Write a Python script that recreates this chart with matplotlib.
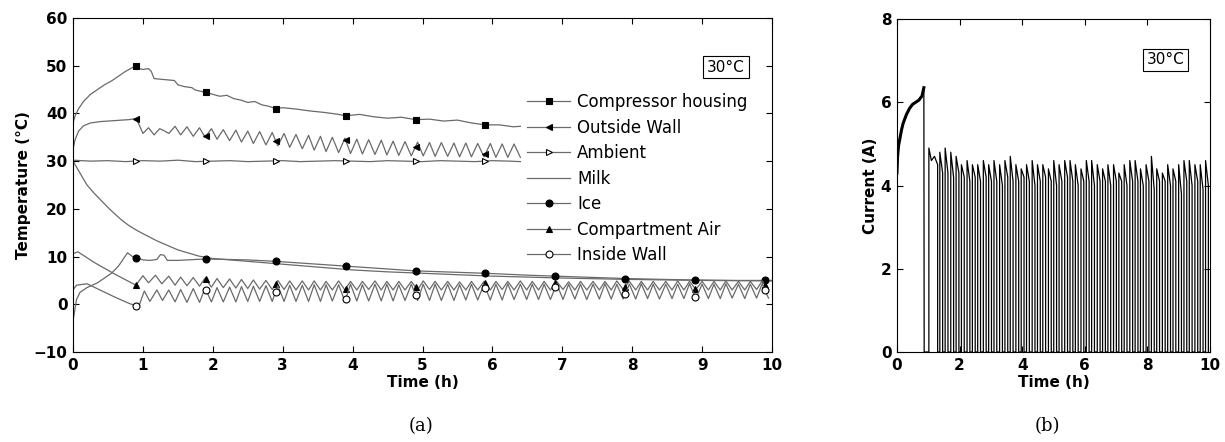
import numpy as np
import matplotlib
matplotlib.use('Agg')
import matplotlib.pyplot as plt
from matplotlib.lines import Line2D

plt.rcParams['font.family'] = 'DejaVu Sans'
plt.rcParams['font.weight'] = 'bold'
plt.rcParams['axes.labelweight'] = 'bold'

# ---- compressor on/off cycle times (h)
on_t = [1.37, 1.54, 1.72, 1.89, 2.06, 2.24, 2.41, 2.58, 2.76, 2.93,
        3.10, 3.28, 3.45, 3.62, 3.80, 3.97, 4.14, 4.32, 4.49, 4.66,
        4.84, 5.01, 5.18, 5.36, 5.53, 5.70, 5.88, 6.05, 6.22, 6.40,
        6.57, 6.74, 6.92, 7.09, 7.26, 7.44, 7.61, 7.78, 7.96, 8.13,
        8.30, 8.48, 8.65, 8.82, 9.00, 9.17, 9.34, 9.52, 9.69, 9.86]
off_t = [1.46, 1.63, 1.81, 1.98, 2.15, 2.33, 2.50, 2.67, 2.85, 3.02,
         3.19, 3.37, 3.54, 3.71, 3.89, 4.06, 4.23, 4.41, 4.58, 4.75,
         4.93, 5.10, 5.27, 5.45, 5.62, 5.79, 5.97, 6.14, 6.31, 6.49,
         6.66, 6.83, 7.01, 7.18, 7.35, 7.53, 7.70, 7.87, 8.05, 8.22,
         8.39, 8.57, 8.74, 8.91, 9.09, 9.26, 9.43, 9.61, 9.78, 9.95]

# ---- compressor housing
ch_t = [0, 0.03, 0.08, 0.15, 0.25, 0.35, 0.45, 0.55, 0.65, 0.75, 0.85, 0.9,
        0.95, 1.0, 1.08, 1.12, 1.16, 1.3, 1.45, 1.5, 1.6, 1.7, 1.75, 1.9,
        2.0, 2.1, 2.2, 2.3, 2.4, 2.5, 2.6, 2.7, 2.8, 2.9, 3.0, 3.2, 3.4,
        3.6, 3.8, 3.9, 4.1, 4.3, 4.5, 4.7, 4.9, 5.1, 5.3, 5.5, 5.7, 5.9,
        6.1, 6.3, 6.4]
ch_T = [38.0, 39.5, 41.0, 42.5, 44.0, 45.0, 46.0, 46.8, 47.8, 48.8, 49.6, 50.0,
        49.4, 49.2, 49.4, 48.8, 47.3, 47.1, 46.9, 46.0, 45.6, 45.4, 44.9, 44.4,
        44.0, 43.6, 43.8, 43.1, 42.8, 42.3, 42.5, 41.8, 41.5, 41.0, 41.2, 40.9,
        40.5, 40.2, 39.8, 39.5, 39.8, 39.3, 39.0, 39.2, 38.7, 38.8, 38.4, 38.6,
        38.0, 37.6, 37.6, 37.2, 37.3]

# ---- outside wall: pull-down part, then cycle lows (at on_t) / highs (at off_t)
ow_t0 = [0, 0.03, 0.08, 0.15, 0.25, 0.4, 0.6, 0.8, 0.9, 0.95, 1.0, 1.08, 1.16, 1.24, 1.3]
ow_T0 = [32.5, 34.5, 36.3, 37.4, 38.0, 38.3, 38.5, 38.7, 38.9, 37.5, 35.8, 37.0, 35.5, 36.8, 36.4]
ow_lo = [35.8, 35.5, 35.2, 35.0, 34.6, 34.3, 34.0, 33.7, 33.4, 33.2,
         32.9, 32.6, 32.3, 32.0, 31.8, 31.6, 31.5, 31.4, 31.3, 31.2,
         31.1, 31.1, 31.0, 31.0, 30.9, 30.9, 30.9, 30.8, 30.8, 30.8]
ow_hi = [37.3, 37.2, 37.0, 36.8, 36.6, 36.5, 36.3, 36.2, 36.0, 35.8,
         35.6, 35.4, 35.2, 35.0, 34.8, 34.6, 34.5, 34.4, 34.2, 34.1,
         34.0, 33.9, 33.9, 33.8, 33.8, 33.7, 33.7, 33.6, 33.6]

# ---- ambient
amb_t = [0, 0.25, 0.5, 0.75, 1.0, 1.25, 1.5, 1.75, 2.0, 2.25, 2.5, 2.75, 3.0, 3.25,
         3.5, 3.75, 4.0, 4.25, 4.5, 4.75, 5.0, 5.25, 5.5, 5.75, 6.0, 6.25, 6.4]
amb_T = [30.2, 30.0, 30.1, 29.9, 30.1, 30.0, 30.2, 29.9, 30.0, 30.1, 29.9, 30.0, 30.1, 29.9,
         30.0, 30.1, 30.0, 29.9, 30.1, 30.0, 29.9, 30.1, 30.0, 29.9, 30.1, 30.0, 29.9]

# ---- milk
milk_t = [0, 0.1, 0.2, 0.3, 0.4, 0.5, 0.6, 0.7, 0.8, 0.9, 1.0, 1.2, 1.5, 1.8, 2.0,
          2.5, 3.0, 3.5, 4.0, 4.5, 5.0, 5.5, 6.0, 6.5, 7.0, 8.0, 9.0, 10.0]
milk_T = [30.0, 27.5, 25.0, 23.3, 21.8, 20.3, 18.9, 17.6, 16.5, 15.6, 14.8, 13.3, 11.4,
          10.1, 9.6, 9.0, 8.4, 7.8, 7.2, 6.8, 6.5, 6.2, 5.9, 5.7, 5.5, 5.2, 5.0, 4.9]

# ---- ice
ice_t = [0, 0.05, 0.1, 0.2, 0.35, 0.45, 0.55, 0.65, 0.72, 0.78, 0.85, 0.9, 1.0, 1.1,
         1.2, 1.25, 1.3, 1.35, 1.5, 1.9, 2.5, 2.9, 3.5, 3.9, 4.5, 4.9, 5.5, 5.9, 6.5,
         6.9, 7.5, 7.9, 8.5, 8.9, 9.5, 10.0]
ice_T = [-3.5, 1.0, 2.5, 3.5, 4.5, 5.5, 6.5, 8.0, 9.5, 10.8, 10.0, 9.8, 9.3, 9.2,
         9.4, 10.4, 10.3, 9.2, 9.2, 9.5, 9.3, 9.0, 8.4, 8.0, 7.4, 7.0, 6.7, 6.5, 6.1,
         5.9, 5.6, 5.4, 5.2, 5.1, 5.0, 5.0]

# ---- compartment air: pull-down, then highs (at on_t) / lows (at off_t)
air_t0 = [0, 0.07, 0.3, 0.6, 0.9, 1.0, 1.08, 1.18, 1.27]
air_T0 = [10.6, 11.0, 8.8, 6.3, 4.0, 6.0, 4.5, 6.1, 4.3]
air_hi = [5.9, 5.7, 5.6, 5.5, 5.4, 5.3, 5.2, 5.1, 5.0, 5.0, 4.9, 4.9, 4.9, 4.8, 4.9, 4.8, 4.8,
          4.9, 4.8, 4.8, 4.8, 4.9, 4.8, 4.8, 4.7, 4.8, 4.8, 4.8, 4.8, 4.9, 4.8, 4.8, 4.8,
          4.7, 4.8, 4.8, 4.8, 4.9, 4.8, 4.8, 4.8, 4.8, 4.9, 4.8, 4.8, 4.8, 4.9, 4.8, 4.8, 4.9]
air_lo = [4.0, 3.9, 3.8, 3.6, 3.5, 3.4, 3.3, 3.2, 3.1, 3.1, 3.0, 3.0, 3.0, 3.0, 3.0, 3.0, 3.1,
          3.0, 3.0, 3.0, 3.0, 3.1, 3.0, 3.0, 3.0, 3.0, 3.0, 3.1, 3.0, 3.0, 3.0, 3.0, 3.1,
          3.0, 3.0, 3.0, 3.0, 3.1, 3.0, 3.0, 3.0, 3.0, 3.0, 3.1, 3.0, 3.0, 3.0, 3.0, 3.1, 3.0]

# ---- inside wall
iw_t0 = [0, 0.05, 0.2, 0.4, 0.6, 0.8, 0.9, 0.95, 1.02, 1.1, 1.2, 1.28]
iw_T0 = [3.0, 4.0, 4.3, 2.9, 1.5, 0.2, -0.3, -0.1, 2.8, 0.6, 3.0, 0.8]
iw_hi = [3.0, 3.1, 3.3, 3.4, 3.5, 3.6, 3.7, 3.8, 3.9, 3.9, 4.0, 4.0, 4.1, 4.1, 4.1, 4.2, 4.1,
         4.2, 4.2, 4.1, 4.2, 4.2, 4.2, 4.2, 4.1, 4.2, 4.2, 4.2, 4.3, 4.2, 4.2, 4.2, 4.3,
         4.2, 4.2, 4.2, 4.3, 4.2, 4.2, 4.3, 4.2, 4.2, 4.2, 4.3, 4.2, 4.2, 4.3, 4.2, 4.2, 4.3]
iw_lo = [0.5, 0.4, 0.4, 0.5, 0.5, 0.5, 0.6, 0.6, 0.6, 0.6, 0.6, 0.6, 0.6, 0.7, 0.6, 0.7, 0.7,
         0.7, 0.7, 0.8, 0.8, 0.8, 0.8, 0.8, 0.9, 0.9, 0.9, 0.9, 1.0, 1.0, 1.0, 1.0, 1.0,
         1.1, 1.0, 1.1, 1.1, 1.1, 1.1, 1.2, 1.1, 1.2, 1.2, 1.2, 1.2, 1.2, 1.3, 1.2, 1.3, 1.3]

# ---- compressor current
pd_t = [0, 0.02, 0.05, 0.1, 0.15, 0.2, 0.3, 0.4, 0.5, 0.6, 0.7, 0.8, 0.86]
pd_I = [4.3, 4.7, 4.95, 5.15, 5.35, 5.5, 5.7, 5.85, 5.95, 6.0, 6.05, 6.15, 6.35]
cur_t0 = [0.86, 0.87, 1.02, 1.02, 1.1, 1.2, 1.3, 1.3]
cur_I0 = [6.35, 0, 0, 4.9, 4.6, 4.7, 4.5, 0]
cur_hi = [4.8, 4.9, 4.8, 4.7, 4.5, 4.6, 4.5, 4.5, 4.6, 4.5, 4.6, 4.5, 4.6, 4.7, 4.5, 4.4, 4.5,
          4.6, 4.5, 4.5, 4.4, 4.6, 4.5, 4.6, 4.6, 4.5, 4.4, 4.6, 4.6, 4.5, 4.4, 4.5, 4.5,
          4.3, 4.5, 4.6, 4.6, 4.4, 4.5, 4.7, 4.4, 4.3, 4.5, 4.4, 4.5, 4.6, 4.6, 4.5, 4.5, 4.6]
cur_lo = [4.3, 4.3, 4.2, 4.3, 4.2, 4.1, 4.2, 4.1, 4.2, 4.1, 4.1, 4.0, 4.2, 4.1, 4.1, 4.2, 4.1,
          4.0, 4.1, 4.2, 4.1, 4.0, 4.1, 4.2, 4.1, 4.0, 4.1, 4.1, 4.0, 4.1, 4.1, 4.0, 4.1,
          4.1, 4.0, 4.1, 4.1, 4.0, 4.1, 3.9, 4.1, 4.1, 4.0, 4.1, 3.8, 4.1, 4.0, 4.1, 3.9, 4.0]

mark_t = [0.9, 1.9, 2.9, 3.9, 4.9, 5.9, 6.9, 7.9, 8.9, 9.9]


def zigzag(t0, y0, t_a, y_a, t_b, y_b):
    # pull-down points, then alternate (t_a, y_a) and (t_b, y_b) per cycle
    t, y = list(t0), list(y0)
    for i in range(len(y_a)):
        t.append(t_a[i]); y.append(y_a[i])
        if i < len(y_b):
            t.append(t_b[i]); y.append(y_b[i])
    return np.array(t), np.array(y)


series = [
    ('Compressor housing', np.array(ch_t), np.array(ch_T), 's', 'k', 6),
    ('Outside Wall',) + zigzag(ow_t0, ow_T0, on_t, ow_lo, off_t, ow_hi) + ('<', 'k', 6),
    ('Ambient', np.array(amb_t), np.array(amb_T), '>', 'w', 6),
    ('Milk', np.array(milk_t), np.array(milk_T), None, 'k', 0),
    ('Ice', np.array(ice_t), np.array(ice_T), 'o', 'k', 10),
    ('Compartment Air',) + zigzag(air_t0, air_T0, on_t, air_hi, off_t, air_lo) + ('^', 'k', 10),
    ('Inside Wall',) + zigzag(iw_t0, iw_T0, on_t, iw_hi, off_t, iw_lo) + ('o', 'w', 10),
]

line_c = '#6a6a6a'
fig = plt.figure(figsize=(12.25, 4.42), dpi=100)
ax1 = fig.add_axes([0.0596, 0.2036, 0.5706, 0.7557])
ax2 = fig.add_axes([0.7322, 0.2036, 0.2555, 0.7534])

handles = []
for name, t, y, mk, fc, nmark in series:
    ax1.plot(t, y, color=line_c, lw=0.9)
    if mk is not None:
        mt = np.array(mark_t[:nmark])
        ax1.plot(mt, np.interp(mt, t, y), ls='none', marker=mk, ms=5,
                 mfc=fc, mec='k', mew=0.8)
    handles.append(Line2D([], [], color=line_c, lw=0.9, marker=mk, ms=5,
                          mfc=fc, mec='k', mew=0.8, label=name))

ax1.set_xlim(0, 10)
ax1.set_ylim(-10, 60)
ax1.set_xticks(range(0, 11))
ax1.set_yticks(range(-10, 61, 10))
ax1.set_xlabel('Time (h)', fontsize=11, labelpad=2)
ax1.set_ylabel('Temperature (°C)', fontsize=11, labelpad=2)
ax1.legend(handles=handles, loc='upper left', bbox_to_anchor=(0.64, 0.795),
           frameon=False, prop={'weight': 'normal', 'size': 12},
           handlelength=2.6, handletextpad=0.4, labelspacing=0.45, borderaxespad=0)
ax1.text(0.934, 0.853, '30°C', transform=ax1.transAxes, ha='center', va='center',
         fontsize=11, fontweight='normal',
         bbox=dict(boxstyle='square,pad=0.25', fc='white', ec='k', lw=0.8))
fig.text(0.344, 0.035, '(a)', ha='center', va='center', fontsize=13,
         family='DejaVu Serif', fontweight='normal')

# current trace
ct, ci = list(cur_t0), list(cur_I0)
for i in range(len(on_t)):
    ct += [on_t[i], on_t[i], off_t[i], off_t[i]]
    ci += [0, cur_hi[i], cur_lo[i], 0]
ax2.plot(pd_t, pd_I, color='k', lw=2.2)
ax2.plot(ct, ci, color='k', lw=0.9)
ax2.set_xlim(0, 10)
ax2.set_ylim(0, 8)
ax2.set_xticks(range(0, 11, 2))
ax2.set_yticks(range(0, 9, 2))
ax2.set_xlabel('Time (h)', fontsize=11, labelpad=2)
ax2.set_ylabel('Current (A)', fontsize=11, labelpad=2)
ax2.text(0.859, 0.877, '30°C', transform=ax2.transAxes, ha='center', va='center',
         fontsize=11, fontweight='normal',
         bbox=dict(boxstyle='square,pad=0.25', fc='white', ec='k', lw=0.8))
fig.text(0.855, 0.035, '(b)', ha='center', va='center', fontsize=13,
         family='DejaVu Serif', fontweight='normal')

for ax in (ax1, ax2):
    ax.tick_params(direction='in', top=True, right=True, length=4, width=0.8,
                   labelsize=11, pad=4)
    for s in ax.spines.values():
        s.set_linewidth(0.8)

fig.savefig('out.png', dpi=100)
